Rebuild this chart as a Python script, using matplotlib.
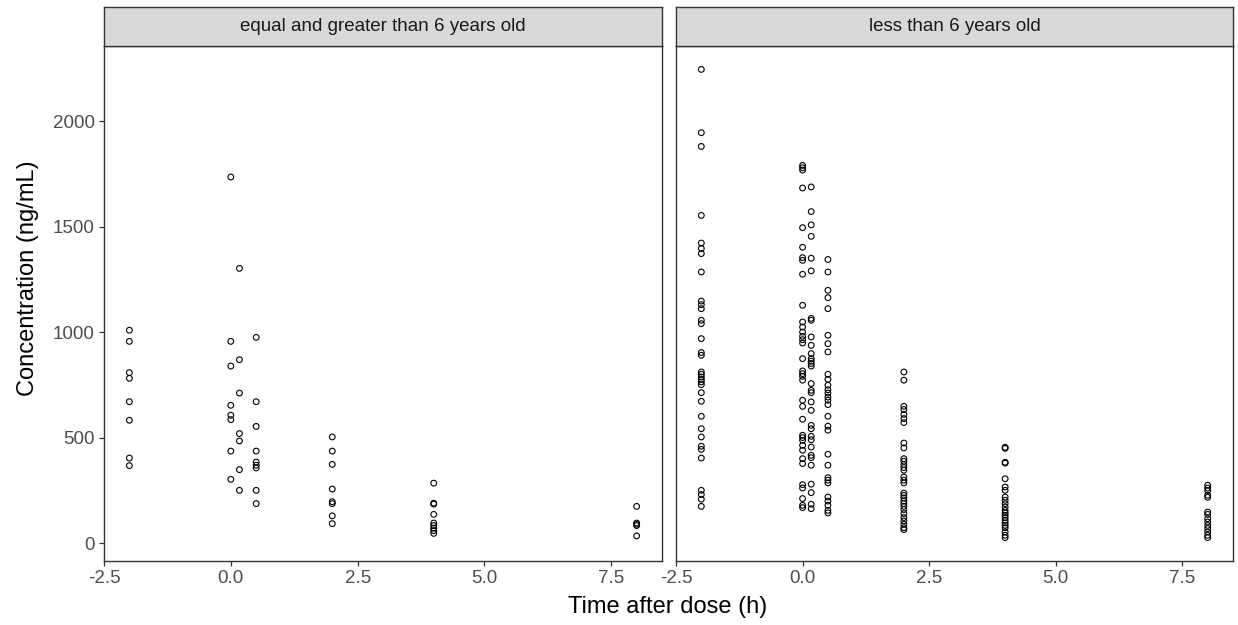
import numpy as np
import matplotlib.pyplot as plt

plt.rcParams['font.family'] = ['Liberation Sans', 'DejaVu Sans']

# sampling times (h) and concentrations (ng/mL), read per time point
times = [-2, 0, 0.17, 0.5, 2, 4, 8]

old_conc = [
    [1010, 957, 809, 782, 671, 583, 404, 368],
    [1736, 957, 840, 654, 607, 586, 437, 303],
    [1303, 870, 712, 520, 485, 349, 251],
    [976, 671, 554, 437, 385, 370, 357, 251, 188],
    [504, 437, 374, 257, 197, 188, 130, 93],
    [285, 190, 186, 137, 96, 84, 72, 60, 47],
    [175, 96, 90, 84, 35],
]

young_conc = [
    [2246, 1946, 1881, 1554, 1423, 1397, 1373, 1286, 1148, 1131, 1112, 1057,
     1041, 970, 904, 891, 812, 801, 788, 776, 765, 752, 714, 673, 602, 543,
     504, 460, 445, 404, 251, 231, 209, 175],
    [1791, 1780, 1769, 1684, 1496, 1403, 1354, 1341, 1275, 1128, 1049, 1025,
     1001, 981, 965, 949, 875, 817, 804, 791, 773, 678, 649, 588, 512, 501,
     488, 464, 441, 401, 378, 278, 262, 212, 180, 169],
    [1689, 1572, 1509, 1455, 1351, 1291, 1066, 1057, 978, 938, 899, 875, 863,
     852, 840, 757, 725, 714, 670, 630, 559, 543, 507, 491, 456, 417, 406,
     370, 280, 240, 185, 164],
    [1345, 1286, 1199, 1164, 1112, 986, 946, 907, 801, 777, 749, 728, 712,
     693, 678, 657, 602, 555, 536, 422, 370, 311, 299, 286, 219, 200, 180,
     156, 144],
    [812, 773, 649, 634, 611, 591, 572, 475, 452, 401, 389, 373, 359, 346,
     314, 299, 286, 238, 227, 215, 200, 188, 175, 160, 141, 122, 106, 90, 74,
     65],
    [455, 450, 384, 380, 306, 267, 251, 219, 204, 188, 172, 156, 144, 133,
     122, 109, 96, 85, 74, 54, 38, 27],
    [275, 262, 250, 228, 218, 148, 137, 117, 101, 85, 70, 54, 38, 27],
]

panel_titles = ["equal and greater than 6 years old", "less than 6 years old"]
groups = [old_conc, young_conc]

W, H = 1238, 625
fig = plt.figure(figsize=(W / 100, H / 100), dpi=100)

border = '#333333'
top_px, bot_px, strip_top = 46, 561, 7
panels = [(104, 662), (676, 1233)]

all_y = np.concatenate([np.concatenate([np.array(c) for c in g]) for g in groups])
yr = all_y.max() - all_y.min()
ylim = (all_y.min() - 0.05 * yr, all_y.max() + 0.05 * yr)

for i, (x0, x1) in enumerate(panels):
    ax = fig.add_axes([x0 / W, 1 - bot_px / H, (x1 - x0) / W, (bot_px - top_px) / H])
    t = np.concatenate([np.full(len(c), tt) for tt, c in zip(times, groups[i])])
    y = np.concatenate([np.array(c) for c in groups[i]])
    ax.scatter(t, y, s=17, facecolors='none', edgecolors='black', linewidths=0.8)
    ax.set_xlim(-2.5, 8.5)
    ax.set_ylim(*ylim)
    ax.set_xticks([-2.5, 0, 2.5, 5, 7.5])
    ax.set_xticklabels(['-2.5', '0.0', '2.5', '5.0', '7.5'])
    ax.set_yticks([0, 500, 1000, 1500, 2000])
    for sp in ax.spines.values():
        sp.set_color(border)
        sp.set_linewidth(1.0)
    ax.tick_params(colors=border, labelcolor='#4D4D4D', labelsize=13.5,
                   length=3.6, width=0.9, pad=3)
    if i > 0:
        ax.tick_params(axis='y', left=False, labelleft=False)

    sax = fig.add_axes([x0 / W, 1 - top_px / H, (x1 - x0) / W, (top_px - strip_top) / H])
    sax.set_facecolor('#D9D9D9')
    sax.set_xticks([])
    sax.set_yticks([])
    for sp in sax.spines.values():
        sp.set_color(border)
        sp.set_linewidth(1.0)
    sax.text(0.5, 0.5, panel_titles[i], ha='center', va='center',
             fontsize=13.5, color='#1A1A1A', transform=sax.transAxes)

fig.text(668 / W, 1 - 607 / H, "Time after dose (h)", ha='center', va='center',
         fontsize=17)
fig.text(28 / W, 1 - 278 / H, "Concentration (ng/mL)", ha='center', va='center',
         rotation=90, fontsize=17)

fig.savefig("out.png", dpi=100)
